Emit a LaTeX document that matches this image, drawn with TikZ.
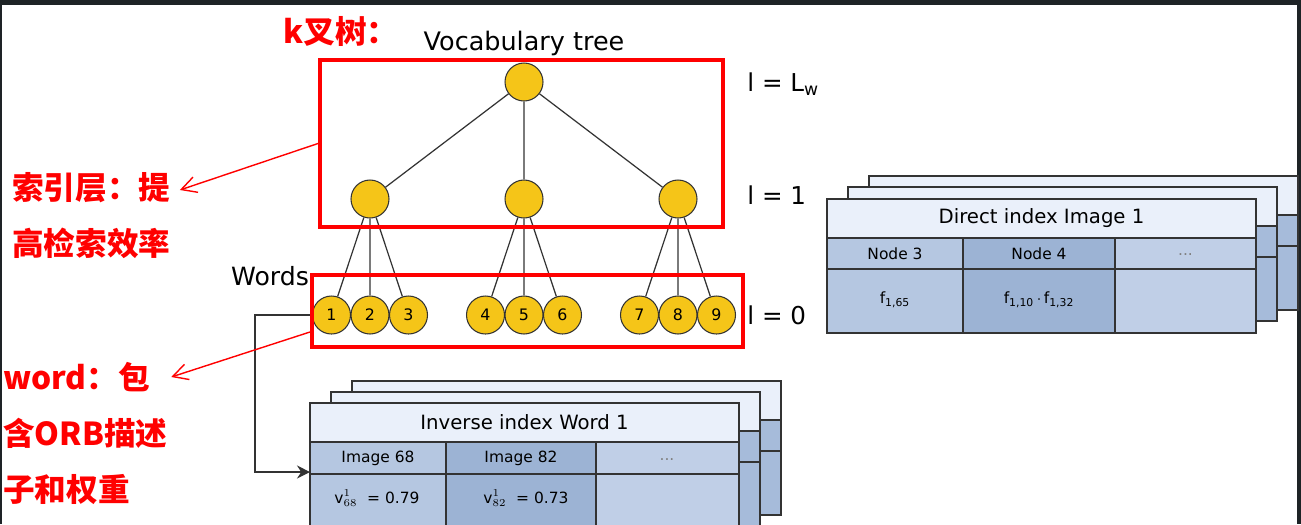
\documentclass[tikz,border=0pt]{standalone}
\usepackage{fontspec}
\setmainfont{DejaVu Sans}
\newfontfamily\cjk{Noto Sans CJK SC}
\usetikzlibrary{positioning,arrows.meta}
\definecolor{gold}{HTML}{F5C518}
\definecolor{edgegray}{HTML}{333333}
\definecolor{headblue}{HTML}{EAF0FA}
\definecolor{cellA}{HTML}{B5C7E1}
\definecolor{cellB}{HTML}{9CB3D4}
\definecolor{cellC}{HTML}{C0CFE7}
\definecolor{backblue}{HTML}{A6BBDA}
\definecolor{framedark}{HTML}{1E2326}
\tikzset{
  treenode/.style={circle,draw=edgegray,fill=gold,line width=0.6pt,minimum size=7.6mm,inner sep=0pt},
  leafnode/.style={treenode,font=\fontsize{9}{10}\selectfont},
  treeedge/.style={draw=edgegray,line width=0.7pt},
  redbox/.style={draw=red,line width=2.3pt,inner sep=0pt},
  rednote/.style={text=red,font=\cjk\bfseries\fontsize{18}{20}\selectfont,anchor=west,inner sep=0pt},
  redarrow/.style={draw=red,line width=0.8pt,-{Straight Barb[length=3mm,width=3.2mm]}},
  levellabel/.style={anchor=west,font=\fontsize{14}{16}\selectfont,inner sep=0pt},
  sheetline/.style={draw=edgegray,line width=0.7pt},
  celltext/.style={font=\fontsize{8.8}{10}\selectfont,inner sep=0pt},
  titletext/.style={font=\fontsize{11.2}{13}\selectfont,inner sep=0pt},
}
% one sheet of a stack, only its outline and fills
\newcommand{\backsheet}[2]{%
  \filldraw[sheetline,fill=headblue] (#1,#2) rectangle ++(429,39);
  \filldraw[sheetline,fill=backblue] (#1,#2+39) rectangle ++(429,95);
  \draw[sheetline] (#1,#2+70) -- ++(429,0);
}

\begin{document}
\begin{tikzpicture}[x=0.2mm,y=-0.2mm,node distance=23.4mm,on grid]

\useasboundingbox (0,0) rectangle (1301,524);
\clip (0,0) rectangle (1301,524);
\fill[framedark] (0,0) rectangle (1301,524);
\fill[white] (2,5) rectangle (1297,524);

% vocabulary tree
\node[font=\fontsize{14.5}{17}\selectfont] (vtitle) at (524,43) {Vocabulary tree};
\node[treenode] (root) at (524,82) {};
\node[treenode,below=of root] (n2) {};
\node[treenode,left=30.8mm of n2] (n1) {};
\node[treenode,right=30.8mm of n2] (n3) {};

\node[leafnode,below=23.2mm of n1] (w2) {2};
\node[leafnode,left=7.7mm of w2] (w1) {1};
\node[leafnode,right=7.7mm of w2] (w3) {3};
\node[leafnode,below=23.2mm of n2] (w5) {5};
\node[leafnode,left=7.7mm of w5] (w4) {4};
\node[leafnode,right=7.7mm of w5] (w6) {6};
\node[leafnode,below=23.2mm of n3] (w8) {8};
\node[leafnode,left=7.7mm of w8] (w7) {7};
\node[leafnode,right=7.7mm of w8] (w9) {9};

\draw[treeedge] (root) -- (n1) (root) -- (n2) (root) -- (n3);
\draw[treeedge] (n1) -- (w1) (n1) -- (w2) (n1) -- (w3);
\draw[treeedge] (n2) -- (w4) (n2) -- (w5) (n2) -- (w6);
\draw[treeedge] (n3) -- (w7) (n3) -- (w8) (n3) -- (w9);

\node[font=\fontsize{14.3}{16}\selectfont,inner sep=0pt] (words) at (270,276) {Words};
\node[levellabel] (lw) at (747,84) {l = L\textsubscript{w}};
\node[levellabel] (l1) at (747,195) {l = 1};
\node[levellabel] (l0) at (747,315) {l = 0};

% direct index
\backsheet{869}{176}
\backsheet{848}{187}
\begin{scope}[shift={(827,199)}]
  \fill[headblue] (0,0) rectangle (429,39);
  \fill[cellA] (0,39) rectangle (136,134);
  \fill[cellB] (136,39) rectangle (288,134);
  \fill[cellC] (288,39) rectangle (429,134);
  \draw[sheetline] (0,0) rectangle (429,134);
  \draw[sheetline] (0,39) -- (429,39);
  \draw[sheetline,line width=1.2pt] (0,70) -- (429,70);
  \draw[sheetline] (136,39) -- (136,134) (288,39) -- (288,134);
  \node[titletext] (dtitle) at (214.5,19.5) {Direct index Image 1};
  \node[celltext] (dnode3) at (68,54.5) {Node 3};
  \node[celltext] (dnode4) at (212,54.5) {Node 4};
  \node[celltext,text=gray] (ddots) at (358.5,56) {...};
  \node[celltext] (dfa) at (68,101) {f\textsubscript{1,65}};
  \node[celltext] (dfb) at (212,101) {f\textsubscript{1,10}\,$\cdot$\,f\textsubscript{1,32}};
\end{scope}

% inverse index
\backsheet{352}{381}
\backsheet{331}{392}
\begin{scope}[shift={(310,403)}]
  \fill[headblue] (0,0) rectangle (429,39);
  \fill[cellA] (0,39) rectangle (136,134);
  \fill[cellB] (136,39) rectangle (286,134);
  \fill[cellC] (286,39) rectangle (429,134);
  \draw[sheetline] (0,0) rectangle (429,134);
  \draw[sheetline] (0,39) -- (429,39);
  \draw[sheetline,line width=1.2pt] (0,71) -- (429,71);
  \draw[sheetline] (136,39) -- (136,134) (286,39) -- (286,134);
  \node[titletext] (ititle) at (214.5,19.5) {Inverse index Word 1};
  \node[celltext] (iimg68) at (68,55) {Image 68};
  \node[celltext] (iimg82) at (211,55) {Image 82};
  \node[celltext,text=gray] (idots) at (357,56.5) {...};
  \node[celltext] (iva) at (67,95) {v${}^{1}_{68}$\ \ = 0.79};
  \node[celltext] (ivb) at (216,95) {v${}^{1}_{82}$\ \ = 0.73};
  \coordinate (invin) at (0,69);
\end{scope}

\draw[edgegray,line width=0.7pt,-{Stealth[length=2.6mm,width=2.6mm]}]
  (w1.west) -- ++(-57,0) |- (invin);

% red notes
\node[redbox,minimum width=80.6mm,minimum height=33.4mm] (treebox) at (521.5,143.5) {};
\node[redbox,minimum width=86.2mm,minimum height=14.4mm] (wordbox) at (527.5,311) {};

\node[rednote] (ktree) at (283,31.5) {k叉树：};
\node[rednote] (idxnote) at (12,187.5) {索引层：提};
\node[rednote] (idxnote2) at (12,243) {高检索效率};
\node[rednote] (wordnote) at (3,377) {word：包};
\node[rednote] (wordnote2) at (3,433) {含ORB描述};
\node[rednote] (wordnote3) at (3,489) {子和权重};

\draw[redarrow] (treebox.west) -- ([xshift=1.8mm,yshift=-0.5mm]idxnote.east);
\draw[redarrow] ([yshift=-4.2mm]wordbox.west) -- ([xshift=4.2mm]wordnote.east);

\end{tikzpicture}
\end{document}
